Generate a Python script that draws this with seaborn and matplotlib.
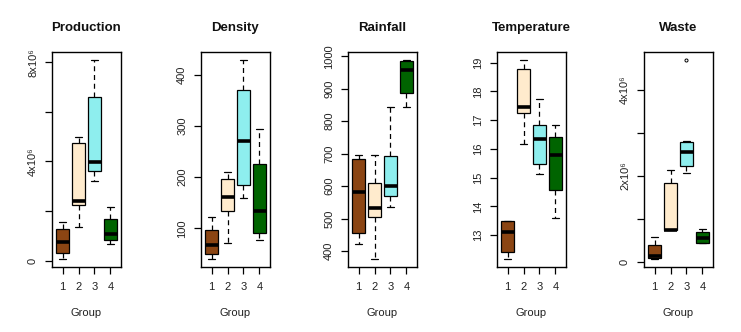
import matplotlib
matplotlib.use("Agg")
import matplotlib.pyplot as plt
import numpy as np
import pandas as pd
import seaborn as sns

# ---- data (5-number-like observations per group) ----
groups = ["1", "2", "3", "4"]
box_colors = ["#8B4513", "#FFEBCD", "#8EEEEE", "#006400"]

production = [
    [0.07e6, 0.31e6, 0.75e6, 1.27e6, 1.55e6],
    [1.38e6, 2.23e6, 2.41e6, 4.76e6, 4.98e6],
    [3.21e6, 3.60e6, 3.96e6, 6.61e6, 8.09e6],
    [0.67e6, 0.84e6, 1.08e6, 1.67e6, 2.15e6],
]
density = [
    [40, 49, 67, 97, 123],
    [71, 133, 162, 197, 210],
    [160, 184, 271, 370, 429],
    [77, 90, 134, 226, 294],
]
rainfall = [
    [420, 454, 583, 684, 697],
    [375, 506, 532, 610, 697],
    [537, 569, 601, 694, 844],
    [844, 888, 958, 985, 989],
]
temperature = [
    [12.17, 12.41, 13.10, 13.49, 13.49],
    [16.16, 17.25, 17.46, 18.79, 19.09],
    [15.13, 15.46, 16.33, 16.82, 17.74],
    [13.59, 14.56, 15.77, 16.42, 16.84],
]
waste = [
    [0.077e6, 0.092e6, 0.154e6, 0.393e6, 0.578e6],
    [0.74e6, 0.74e6, 0.75e6, 1.85e6, 2.15e6],
    [2.08e6, 2.19e6, 2.38e6, 2.74e6, 2.82e6, 4.69e6],
    [0.447e6, 0.455e6, 0.570e6, 0.694e6, 0.778e6],
]

titles = ["Production", "Density", "Rainfall", "Temperature", "Waste"]
yticks = [
    [0, 2e6, 4e6, 6e6, 8e6],
    [100, 200, 300, 400],
    [400, 500, 600, 700, 800, 900, 1000],
    [13, 14, 15, 16, 17, 18, 19],
    [0, 1e6, 2e6, 3e6, 4e6],
]
yticklabels = [
    ["0", "", "4x10⁶", "", "8x10⁶"],
    ["100", "200", "300", "400"],
    ["400", "500", "600", "700", "800", "900", "1000"],
    ["13", "14", "15", "16", "17", "18", "19"],
    ["0", "", "2x10⁶", "", "4x10⁶"],
]
all_data = [production, density, rainfall, temperature, waste]

# ---- style ----
sns.set_theme(style="ticks")
plt.rcParams["font.family"] = ["Liberation Sans", "DejaVu Sans"]
plt.rcParams["axes.edgecolor"] = "black"
plt.rcParams["axes.linewidth"] = 1.0

W, H = 741, 332
fig = plt.figure(figsize=(W / 100, H / 100), dpi=100)

lefts_px = [52, 201, 348, 497, 644]
ax_w_px = 69
ax_top_px, ax_bot_px = 52, 267

for i, (vals, title) in enumerate(zip(all_data, titles)):
    rows = []
    for g, obs in zip(groups, vals):
        for v in obs:
            rows.append({"Group": g, "value": v})
    df = pd.DataFrame(rows)

    ax = fig.add_axes([lefts_px[i] / W, (H - ax_bot_px) / H,
                       ax_w_px / W, (ax_bot_px - ax_top_px) / H])
    sns.boxplot(
        data=df, x="Group", y="value", hue="Group", order=groups,
        hue_order=groups, palette=box_colors, legend=False, ax=ax,
        saturation=1, width=0.8, linecolor="black", linewidth=0.9,
        whiskerprops=dict(linestyle=(0, (4, 3)), color="black", linewidth=0.9),
        capprops=dict(color="black", linewidth=0.9),
        medianprops=dict(color="black", linewidth=2.6, solid_capstyle="butt"),
        flierprops=dict(marker="o", markersize=2.2, markerfacecolor="none",
                        markeredgecolor="black", markeredgewidth=0.7),
    )
    flat = np.concatenate([np.asarray(o, dtype=float) for o in vals])
    lo, hi = flat.min(), flat.max()
    rng = hi - lo
    ax.set_ylim(lo - 0.04 * rng, hi + 0.04 * rng)
    ax.set_xlim(-0.66, 3.66)
    ax.set_yticks(yticks[i])
    ax.set_yticklabels(yticklabels[i], rotation=90, va="center")
    ax.set_title(title, fontsize=9.5, fontweight="bold", pad=15, color="#111111")
    ax.set_xlabel("Group", fontsize=8, labelpad=11, color="#222222")
    ax.set_ylabel("")
    ax.tick_params(axis="both", direction="out", length=5, width=0.9,
                   color="black", labelsize=8, labelcolor="#222222")
    ax.tick_params(axis="y", pad=5)
    ax.tick_params(axis="x", pad=6)
    for sp in ax.spines.values():
        sp.set_visible(True)
        sp.set_color("black")
        sp.set_linewidth(1.0)

fig.savefig("out.png", dpi=100, facecolor="white")
